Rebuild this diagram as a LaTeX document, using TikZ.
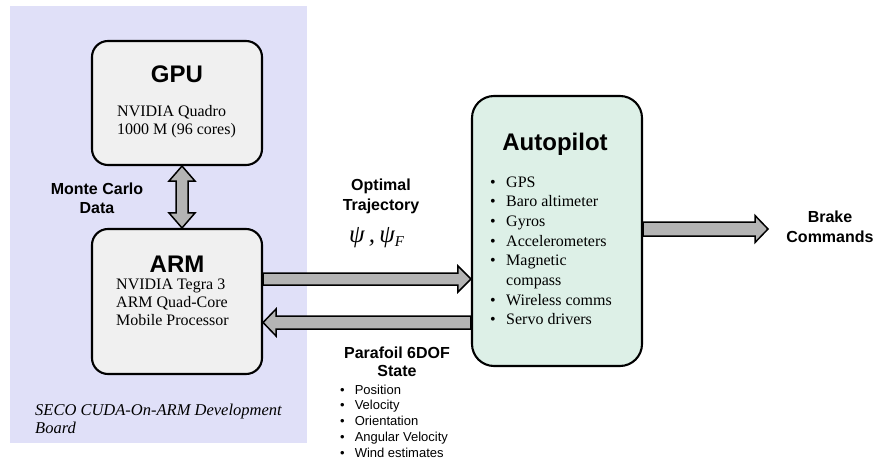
\documentclass[tikz,border=0pt]{standalone}
\usepackage{fontspec}
\setmainfont{Liberation Serif}
\setsansfont{Liberation Sans}
\usetikzlibrary{calc}
\definecolor{bgblue}{RGB}{224,224,248}
\definecolor{boxgray}{RGB}{240,240,240}
\definecolor{mint}{RGB}{221,240,231}
\definecolor{arrowgray}{RGB}{180,180,180}
\begin{document}
\begin{tikzpicture}[x=1pt,y=-1pt,
  box/.style={draw=black, line width=2.1pt, rounded corners=16pt, fill=boxgray, inner sep=0pt},
  barrow/.style={draw=black, line width=1.5pt, fill=arrowgray, line join=miter},
  ttl/.style={font=\fontsize{24}{28}\selectfont\sffamily\bfseries, inner sep=0pt},
  lbl/.style={font=\fontsize{16}{19.5}\selectfont\sffamily\bfseries, inner sep=0pt},
  body/.style={font=\fontsize{16}{18}\selectfont, inner sep=0pt},
]
\useasboundingbox (0,0) rectangle (873,460);
\node[fill=bgblue, minimum width=297pt, minimum height=437pt, inner sep=0pt, anchor=north west] (board) at (10,6) {};

% boxes
\node[box, minimum width=170pt, minimum height=124pt] (gpu) at (177,103) {};
\node[box, minimum width=170pt, minimum height=145pt] (arm) at (177,301.5) {};
\node[box, fill=mint, rounded corners=22pt, minimum width=170pt, minimum height=270pt] (auto) at (557,231) {};

% helper coordinates
\coordinate (d1) at ($(gpu.south)+(5,0)$);
\coordinate (d2) at ($(arm.north)+(5,0)$);
\coordinate (yo) at (0,279);
\coordinate (yr) at (0,322.5);
\coordinate (yb) at (0,229);
\coordinate (o1) at (arm.east |- yo);
\coordinate (o2) at (auto.west |- yo);
\coordinate (r1) at (auto.west |- yr);
\coordinate (r2) at (arm.east |- yr);
\coordinate (b1) at (auto.east |- yb);
\coordinate (bend) at (768,229);

% double vertical arrow
\filldraw[barrow] let \p1=(d1), \p2=(d2) in
  (\x1,\y1) -- (\x1+13pt,\y1-15pt) -- (\x1+6pt,\y1-15pt) -- (\x1+6pt,\y2+15pt) -- (\x1+13pt,\y2+15pt)
  -- (\x1,\y2) -- (\x1-13pt,\y2+15pt) -- (\x1-6pt,\y2+15pt) -- (\x1-6pt,\y1-15pt) -- (\x1-13pt,\y1-15pt) -- cycle;

% optimal trajectory arrow (right)
\filldraw[barrow] let \p1=(o1), \p2=(o2) in
  (\x1,\y1+6pt) -- (\x2-13pt,\y1+6pt) -- (\x2-13pt,\y1+13pt) -- (\x2,\y1) -- (\x2-13pt,\y1-13pt) -- (\x2-13pt,\y1-6pt) -- (\x1,\y1-6pt) -- cycle;

% return arrow (left)
\filldraw[barrow] let \p1=(r1), \p2=(r2) in
  (\x1,\y1+6.5pt) -- (\x2+13pt,\y1+6.5pt) -- (\x2+13pt,\y1+13.5pt) -- (\x2,\y1) -- (\x2+13pt,\y1-13.5pt) -- (\x2+13pt,\y1-6.5pt) -- (\x1,\y1-6.5pt) -- cycle;

% brake arrow
\filldraw[barrow] let \p1=(b1), \p2=(bend) in
  (\x1,\y1+7pt) -- (\x2-13pt,\y1+7pt) -- (\x2-13pt,\y1+13.5pt) -- (\x2,\y1) -- (\x2-13pt,\y1-13.5pt) -- (\x2-13pt,\y1-7pt) -- (\x1,\y1-7pt) -- cycle;

% texts
\node[ttl, anchor=base] (gputitle) at (177,83) {GPU};
\node[body, anchor=base west] (gpubody) at (117,116) {\begin{tabular}[t]{@{}l@{}}NVIDIA Quadro\\1000 M (96 cores)\end{tabular}};

\node[ttl, anchor=base] (armtitle) at (177,272) {ARM};
\node[body, anchor=base west] (armbody) at (116,289) {\begin{tabular}[t]{@{}l@{}}NVIDIA Tegra 3\\ARM Quad-Core\\Mobile Processor\end{tabular}};

\node[body, font=\fontsize{16.5}{18}\selectfont\itshape, anchor=base west] (seco) at (35,415) {\begin{tabular}[t]{@{}l@{}}SECO CUDA-On-ARM Development\\Board\end{tabular}};

\node[lbl, anchor=base] (monte) at (97,194) {\begin{tabular}[t]{@{}c@{}}Monte Carlo\\Data\end{tabular}};

\node[lbl, font=\fontsize{16}{20}\selectfont\sffamily\bfseries, anchor=base] (optim) at (381,190) {\begin{tabular}[t]{@{}c@{}}Optimal\\Trajectory\end{tabular}};
\node[inner sep=0pt, font=\fontsize{25}{28}\selectfont\itshape, anchor=base west] (psi) at (349,242) {ψ\,,\,ψ\raisebox{-4pt}{\fontsize{15}{18}\selectfont F}};

\node[ttl, anchor=base] (autotitle) at (555,150) {Autopilot};
\node[body, font=\fontsize{16}{19.7}\selectfont, anchor=base west] (autolist) at (490,187) {\begin{tabular}[t]{@{}l@{\hspace{10.4pt}}l@{}}
\textbullet & GPS\\
\textbullet & Baro altimeter\\
\textbullet & Gyros\\
\textbullet & Accelerometers\\
\textbullet & Magnetic\\
 & compass\\
\textbullet & Wireless comms\\
\textbullet & Servo drivers
\end{tabular}};

\node[lbl, font=\fontsize{16}{18.5}\selectfont\sffamily\bfseries, anchor=base] (para) at (397,358) {\begin{tabular}[t]{@{}c@{}}Parafoil 6DOF\\State\end{tabular}};
\node[inner sep=0pt, font=\fontsize{13}{15.8}\selectfont\sffamily, anchor=base west] (paralist) at (340,394) {\begin{tabular}[t]{@{}l@{\hspace{10pt}}l@{}}
\textbullet & Position\\
\textbullet & Velocity\\
\textbullet & Orientation\\
\textbullet & Angular Velocity\\
\textbullet & Wind estimates
\end{tabular}};

\node[lbl, font=\fontsize{16}{20}\selectfont\sffamily\bfseries, anchor=base] (brake) at (830,222) {\begin{tabular}[t]{@{}c@{}}Brake\\Commands\end{tabular}};
\end{tikzpicture}
\end{document}
